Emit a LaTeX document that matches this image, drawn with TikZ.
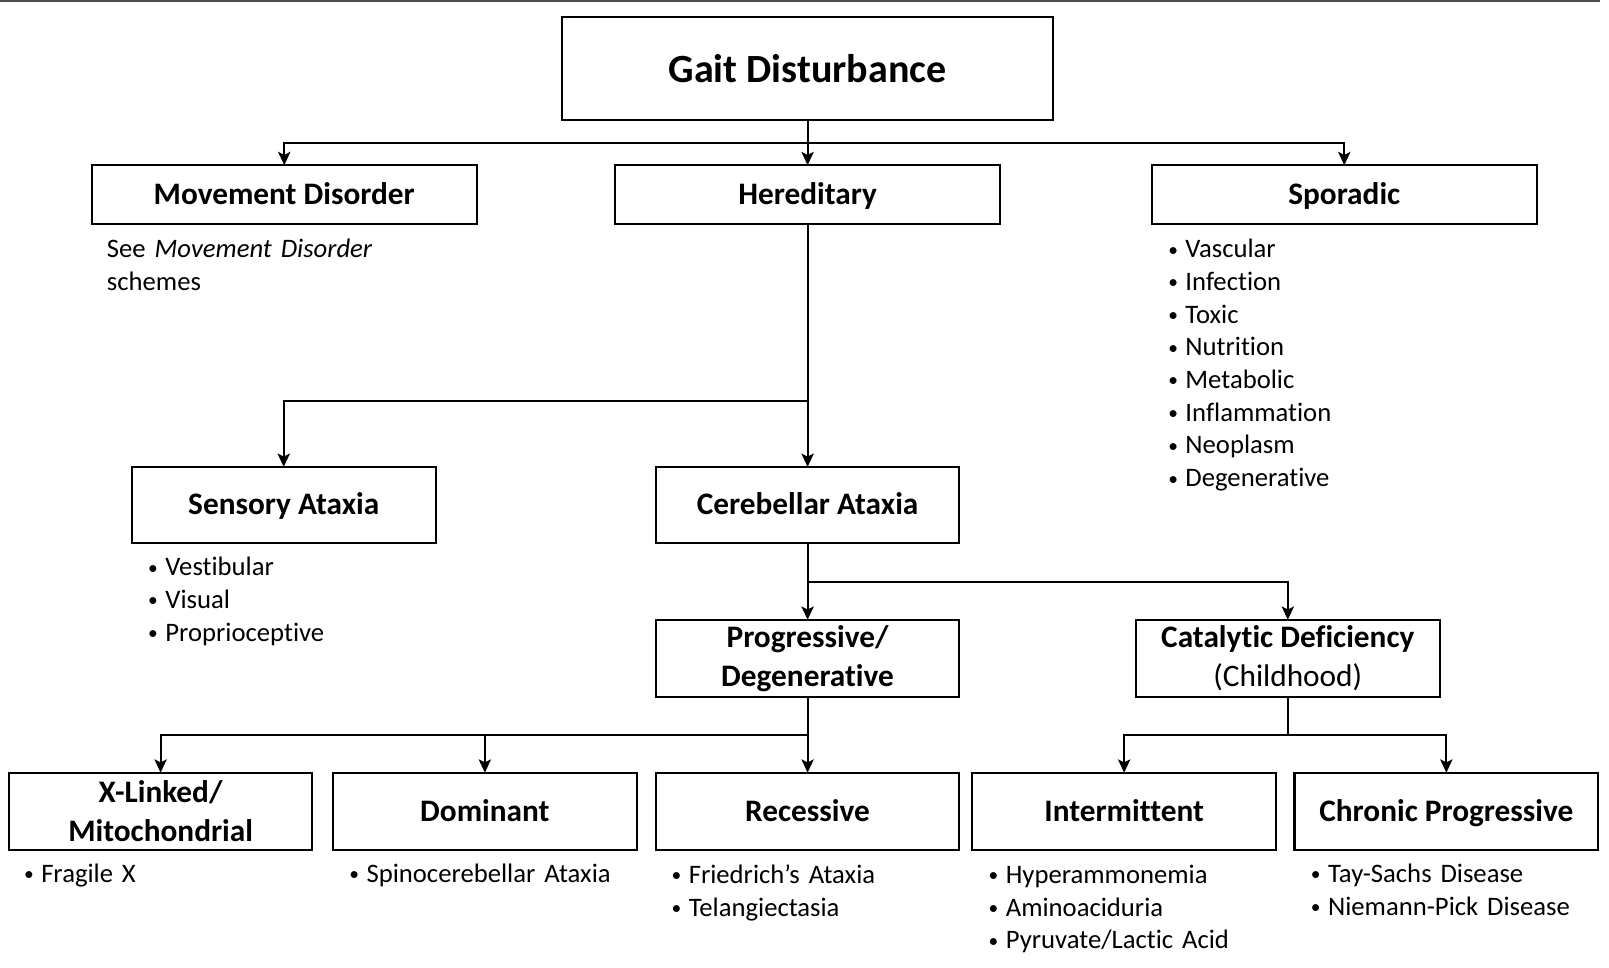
\documentclass[tikz,border=0pt]{standalone}
\usepackage{fontspec}
\setmainfont{Carlito}[RawFeature={-liga;-clig;-calt;-dlig}]
\usetikzlibrary{arrows.meta,positioning}

\newcommand{\bul}{\makebox[14pt][c]{\raisebox{1.5pt}{\fontsize{19}{19}\selectfont•}}\hspace{5pt}}

\begin{document}
\begin{tikzpicture}[x=1pt,y=-1pt,
        block/.style={draw,rectangle,line width=2pt,inner sep=0pt,outer sep=0pt,align=center,font=\fontsize{30.5}{38}\selectfont\bfseries},
        one/.style={text height=26pt,text depth=6.4pt},
        wide/.style={block,one,minimum width=375pt,minimum height=57pt},
        mid/.style={block,minimum width=296pt,minimum height=75pt},
        list/.style={anchor=base west,inner sep=0pt,text width=260pt,align=left,font=\fontsize{26}{31.9}\selectfont},
        arr/.style={line width=2pt,-{Stealth[length=13pt,width=12pt,inset=3pt]}},
        link/.style={line width=2pt}]

        \useasboundingbox (0,0) rectangle (1568,943.3);
        \draw[gray!60!black,line width=2pt] (0,1) -- (1559,1);

        \node[block,minimum width=479pt,minimum height=100pt,font=\fontsize{39}{47}\selectfont\bfseries] (gait) at (787,67) {Gait Disturbance};
        \node[wide] (move) at (277,189.5) {Movement Disorder};
        \node[wide] (hered) at (787,189.5) {Hereditary};
        \node[wide] (spor) at (1310,189.5) {Sporadic};

        \node[mid,one,minimum height=74pt] (sens) at (276.5,492) {Sensory Ataxia};
        \node[mid,one,minimum height=74pt] (cereb) at (787,492) {Cerebellar Ataxia};
        \node[mid] (prog) at (787,641.5) {Progressive/\\Degenerative};
        \node[mid] (cata) at (1255,641.5) {Catalytic Deficiency\\\textmd{(Childhood)}};

        \node[mid] (xlink) at (156.5,790.5) {X-Linked/\\Mitochondrial};
        \node[mid,one] (domi) [right=20pt of xlink] {Dominant};
        \node[mid,one] (reces) [right=18.5pt of domi] {Recessive};
        \node[mid,one] (inter) [right=12.5pt of reces] {Intermittent};
        \node[mid,one] (chron) [right=18pt of inter] {Chronic Progressive};

        \node[list] (movetxt) at (104,251) {See \textit{Movement Disorder}\\schemes};
        \node[list] (sporlist) at (1136,251) {\bul Vascular\\\bul Infection\\\bul Toxic\\\bul Nutrition\\\bul Metabolic\\\bul Inflammation\\\bul Neoplasm\\\bul Degenerative};
        \node[list] (senslist) at (142,561) {\bul Vestibular\\\bul Visual\\\bul Proprioceptive};
        \node[list] (xlinklist) at (21,860) {\bul Fragile X};
        \node[list] (domilist) at (338,860) {\bul Spinocerebellar Ataxia};
        \node[list] (reclist) at (652,861) {\bul Friedrich’s Ataxia\\\bul Telangiectasia};
        \node[list] (interlist) at (961,861) {\bul Hyperammonemia\\\bul Aminoaciduria\\\bul Pyruvate/Lactic Acid};
        \node[list] (chronlist) at (1275,860) {\bul Tay-Sachs Disease\\\bul Niemann-Pick Disease};

        \coordinate (j1) at (787,139);
        \draw[arr] (gait) -- (hered);
        \draw[arr] (j1) -| (move);
        \draw[arr] (j1) -| (spor);

        \coordinate (j2) at (787,391);
        \draw[arr] (hered) -- (cereb);
        \draw[arr] (j2) -| (sens);

        \coordinate (j3) at (787,567);
        \draw[arr] (cereb) -- (prog);
        \draw[arr] (j3) -| (cata);

        \coordinate (j4) at (787,716);
        \draw[arr] (prog) -- (reces);
        \draw[arr] (j4) -| (xlink);
        \draw[arr] (j4) -| (domi);

        \coordinate (j5) at (1255,716);
        \draw[link] (cata) -- (j5);
        \draw[arr] (j5) -| (inter);
        \draw[arr] (j5) -| (chron);
\end{tikzpicture}
\end{document}
